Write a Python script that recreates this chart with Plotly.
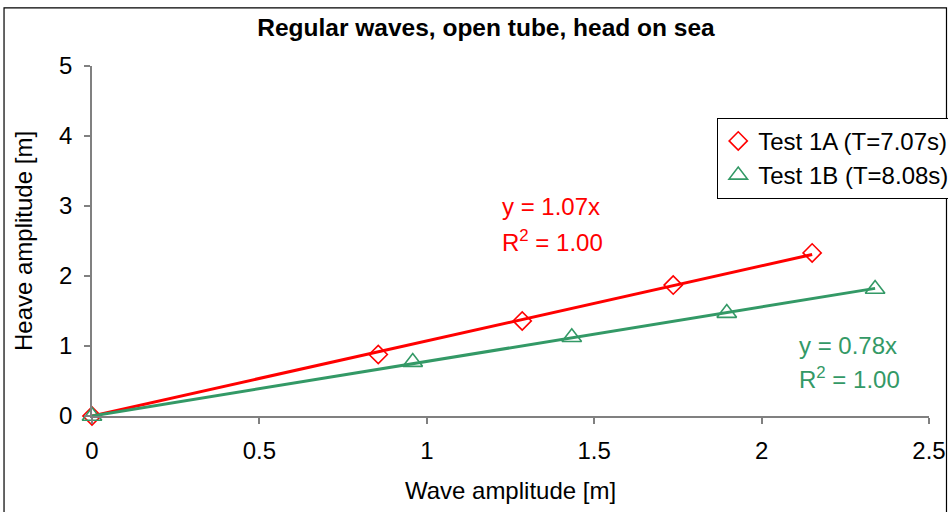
import numpy as np
import plotly.graph_objects as go

# ---- data ----
wave_1a = [0.0, 0.855, 1.285, 1.736, 2.151]
heave_1a = [0.0, 0.878, 1.358, 1.870, 2.330]
wave_1b = [0.0, 0.958, 1.433, 1.896, 2.339]
heave_1b = [0.0, 0.770, 1.125, 1.470, 1.815]
series_names = ["Test 1A (T=7.07s)", "Test 1B (T=8.08s)"]
x_ticks = [0, 0.5, 1, 1.5, 2, 2.5]
y_ticks = [0, 1, 2, 3, 4, 5]

RED = "#FF0000"
GREEN = "#339966"
FONT = "Arial, Liberation Sans, sans-serif"
FS = 24


def fit_origin(x, y):
    x = np.asarray(x, float)
    y = np.asarray(y, float)
    k = (x * y).sum() / (x * x).sum()
    r2 = 1 - ((y - k * x) ** 2).sum() / (y ** 2).sum()
    return k, r2


k_a, r2_a = fit_origin(wave_1a, heave_1a)
k_b, r2_b = fit_origin(wave_1b, heave_1b)

fig = go.Figure()

fig.add_trace(go.Scatter(
    x=wave_1a, y=heave_1a, mode="markers", name=series_names[0],
    legendgroup="a",
    marker=dict(symbol="diamond-open", size=14, color=RED, line=dict(width=1.6, color=RED)),
    cliponaxis=False))
fig.add_trace(go.Scatter(
    x=wave_1b, y=heave_1b, mode="markers", name=series_names[1],
    legendgroup="b",
    marker=dict(symbol="triangle-up-open", size=17, color=GREEN, line=dict(width=1.6, color=GREEN)),
    cliponaxis=False))

# trendlines (linear through origin)
xa_end = max(wave_1a)
xb_end = max(wave_1b)
fig.add_trace(go.Scatter(x=[0, xa_end], y=[0, k_a * xa_end], mode="lines",
                         line=dict(color=RED, width=3), showlegend=False, hoverinfo="skip"))
fig.add_trace(go.Scatter(x=[0, xb_end], y=[0, k_b * xb_end], mode="lines",
                         line=dict(color=GREEN, width=3), showlegend=False, hoverinfo="skip"))

annos = [
    dict(x=1.219, y=2.99, text=f"y = {k_a:.2f}x", color=RED),
    dict(x=1.219, y=2.50, text=f"R<sup>2</sup> = {r2_a:.2f}", color=RED),
    dict(x=2.106, y=1.01, text=f"y = {k_b:.2f}x", color=GREEN),
    dict(x=2.106, y=0.537, text=f"R<sup>2</sup> = {r2_b:.2f}", color=GREEN),
]
for a in annos:
    fig.add_annotation(x=a["x"], y=a["y"], xref="x", yref="y", text=a["text"],
                       showarrow=False, xanchor="left", yanchor="middle",
                       font=dict(family=FONT, size=FS, color=a["color"]))

axis_common = dict(
    showline=True, linecolor="#808080", linewidth=1.5,
    ticks="outside", ticklen=6, tickcolor="#808080", tickwidth=1.5,
    showgrid=False, zeroline=False,
    tickfont=dict(family=FONT, size=FS, color="black"),
)

fig.update_xaxes(range=[0, 2.5], tickvals=x_ticks, ticktext=[f"{v:g}" for v in x_ticks],
                 ticklabelstandoff=6,
                 title=dict(text="Wave amplitude [m]", font=dict(family=FONT, size=FS, color="black"),
                            standoff=20),
                 **axis_common)
fig.update_yaxes(range=[0, 5], tickvals=y_ticks, ticktext=[f"{v:g}" for v in y_ticks],
                 ticklabelstandoff=7,
                 title=dict(text="Heave amplitude [m]", font=dict(family=FONT, size=FS, color="black"),
                            standoff=20),
                 **axis_common)

fig.add_shape(type="rect", xref="paper", yref="paper",
              x0=-0.1051, x1=1.0209, y0=-0.277, y1=1.166,
              line=dict(color="black", width=1.2), fillcolor="rgba(0,0,0,0)", layer="above")

fig.update_layout(
    width=948, height=512,
    margin=dict(l=92, r=19, t=66, b=96, autoexpand=False),
    paper_bgcolor="white", plot_bgcolor="white",
    font=dict(family=FONT, color="black"),
    title=dict(text="<b>Regular waves, open tube, head on sea</b>",
               x=0.4707, xref="paper", xanchor="center",
               y=1 - 27 / 512, yref="container", yanchor="middle",
               font=dict(family=FONT, size=24.5, color="black")),
    legend=dict(x=0.747, y=0.852, xanchor="left", yanchor="top",
                bordercolor="black", borderwidth=1, bgcolor="white",
                font=dict(family=FONT, size=FS, color="black"),
                tracegroupgap=10, traceorder="normal"),
    showlegend=True,
)

fig.write_html("out.html")
